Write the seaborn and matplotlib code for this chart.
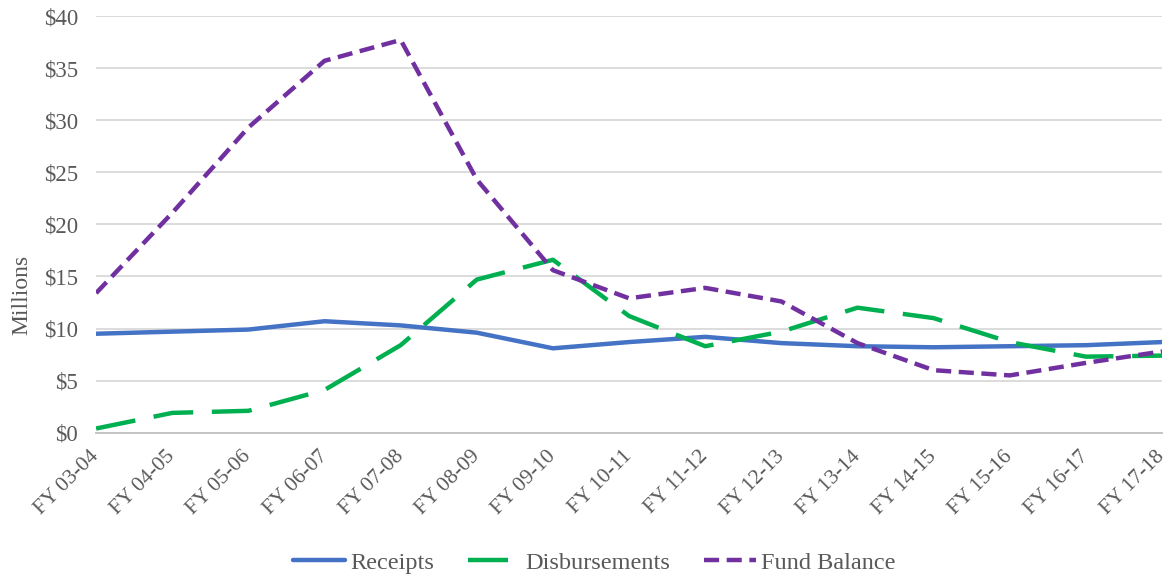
import pandas as pd
import seaborn as sns
import matplotlib.pyplot as plt

# Data (millions of dollars)
years = ["FY 03-04", "FY 04-05", "FY 05-06", "FY 06-07", "FY 07-08",
         "FY 08-09", "FY 09-10", "FY 10-11", "FY 11-12", "FY 12-13",
         "FY 13-14", "FY 14-15", "FY 15-16", "FY 16-17", "FY 17-18"]
receipts = [9.5, 9.7, 9.9, 10.7, 10.3, 9.6, 8.1, 8.7, 9.2, 8.6,
            8.3, 8.2, 8.3, 8.4, 8.7]
disbursements = [0.4, 1.9, 2.1, 4.1, 8.4, 14.7, 16.6, 11.2, 8.3, 9.7,
                 12.0, 11.0, 8.7, 7.3, 7.4]
fund_balance = [13.4, 21.1, 29.3, 35.7, 37.7, 24.3, 15.6, 12.9, 13.9, 12.6,
                8.6, 6.0, 5.5, 6.7, 7.8]

df = pd.DataFrame({
    "year": years,
    "Receipts": receipts,
    "Disbursements": disbursements,
    "Fund Balance": fund_balance,
})
df["x"] = range(len(years))
long_df = df.melt(id_vars=["year", "x"], var_name="series", value_name="value")

sns.set_theme(style="white")
plt.rcParams["font.family"] = ["Liberation Serif", "DejaVu Serif"]

colors = {"Receipts": "#4472C4", "Disbursements": "#00B050", "Fund Balance": "#7030A0"}
dashes = {"Receipts": "", "Disbursements": (9, 4.2), "Fund Balance": (3.4, 1.7)}
text_grey = "#595959"

fig = plt.figure(figsize=(11.72, 5.78), dpi=100)
ax = fig.add_axes([0.082, 0.2514, 0.9095, 0.7209])

# Grid lines behind data
for v in range(5, 45, 5):
    ax.axhline(v, color="#D9D9D9", lw=1.3, zorder=0)

sns.lineplot(data=long_df, x="x", y="value", hue="series", style="series",
             palette=colors, dashes=dashes, linewidth=3.2, ax=ax, legend=False,
             zorder=3)

ax.set_xlim(0, len(years) - 1)
ax.set_ylim(0, 40)
ax.set_yticks(range(0, 45, 5))
ax.set_yticklabels([f"${v}" for v in range(0, 45, 5)], fontsize=16.5, color=text_grey)
ax.set_xticks(range(len(years)))
ax.set_xticklabels(years, rotation=45, ha="right", va="center",
                   rotation_mode="anchor", fontsize=15.5, color=text_grey)
ax.tick_params(axis="x", length=5, color="#BFBFBF", width=1, direction="out", pad=10)
ax.tick_params(axis="y", length=0, pad=13)
ax.set_xlabel("")
ax.set_ylabel("Millions", fontsize=17, color=text_grey)
ax.yaxis.set_label_coords(-0.060, 0.33)

for side in ["top", "right", "left"]:
    ax.spines[side].set_visible(False)
ax.spines["bottom"].set_color("#BFBFBF")
ax.spines["bottom"].set_linewidth(1.3)

# Legend at bottom
handles = [plt.Line2D([], [], color=colors[k], lw=3.2,
                      dashes=dashes[k] if dashes[k] else (None, None))
           for k in ["Receipts", "Disbursements", "Fund Balance"]]
leg = fig.legend(handles, ["Receipts", "Disbursements", "Fund Balance"],
                 loc="center", bbox_to_anchor=(0.507, 0.026), ncol=3, frameon=False,
                 fontsize=17.5, handlelength=2.15, handletextpad=0.2, columnspacing=1.4)
for t in leg.get_texts():
    t.set_color(text_grey)

plt.savefig("out.png", dpi=100)
